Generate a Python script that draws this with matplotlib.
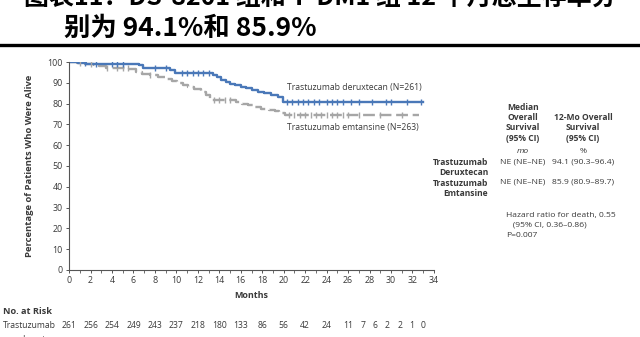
import numpy as np
import matplotlib.pyplot as plt
from matplotlib.transforms import blended_transform_factory

plt.rcParams['font.family'] = ['Open Sans', 'DejaVu Sans']

# Kaplan-Meier step data (months, % alive)
dxd_t = [0, 0.8, 1.6, 6.5, 6.9, 9.4, 9.9, 13.4, 13.8, 14.2, 14.6, 15.0, 15.5, 16.0,
         16.5, 17.0, 17.6, 18.2, 18.8, 19.5, 19.9, 33.0]
dxd_s = [100, 99.6, 99.2, 98.4, 97.2, 96.0, 94.6, 93.8, 92.6, 91.4, 90.4, 89.4, 88.8, 88.0,
         87.3, 86.6, 85.8, 85.0, 84.0, 83.2, 80.9, 80.9]
dxd_cens = [1.5, 2.5, 4.0, 4.5, 5.0, 8.0, 9.0, 10.5, 11.0, 11.5, 12.0, 12.5, 13.0,
            20.3, 20.8, 21.3, 21.8, 22.3, 22.8, 23.3, 24.0, 24.5, 25.0, 25.5, 26.3,
            27.0, 28.2, 29.5, 30.0, 31.5, 32.8]

tdm1_t = [0, 0.7, 1.5, 2.3, 2.8, 3.4, 5.6, 6.2, 6.8, 7.5, 8.3, 9.0, 9.6, 10.1, 10.6, 11.1,
          11.6, 12.3, 12.8, 13.1, 15.6, 16.1, 16.7, 17.3, 17.9, 18.6, 19.2, 19.6, 20.1, 32.6]
tdm1_s = [100, 99.6, 99.2, 98.8, 98.0, 97.2, 96.4, 95.2, 94.4, 93.6, 92.8, 92.0, 91.0, 90.0,
          89.0, 87.8, 86.8, 85.8, 84.0, 81.7, 81.0, 80.0, 79.2, 78.4, 77.6, 77.0, 76.2, 75.4,
          74.6, 74.6]
tdm1_cens = [1.0, 2.0, 3.5, 4.5, 5.0, 5.5, 7.5, 13.5, 14.0, 14.5, 15.0,
             20.5, 21.0, 21.5, 22.0, 22.5, 23.0, 23.5, 24.0, 24.5, 25.0, 25.5, 26.0,
             27.0, 29.0, 31.0]

risk_months = [0, 2, 4, 6, 8, 10, 12, 14, 16, 18, 20, 22, 24, 26,
               27.4, 28.5, 29.6, 30.8, 31.9, 33.0]
risk_dxd = [261, 256, 254, 249, 243, 237, 218, 180, 133, 86, 56, 42, 24, 11, 7, 6, 2, 2, 1, 0]

blue = '#4a78b8'
grey = '#a6a6a6'
txt = '#3a3a3a'

fig = plt.figure(figsize=(6.4, 3.37), dpi=100)
ax = fig.add_axes([0.108, 0.199, 0.570, 0.617])

ax.step(tdm1_t, tdm1_s, where='post', color=grey, lw=1.7, dashes=(5, 2))
ax.step(dxd_t, dxd_s, where='post', color=blue, lw=1.7)


def surv_at(ts, ss, x):
    i = np.searchsorted(ts, x, side='right') - 1
    return ss[i]


ax.plot(tdm1_cens, [surv_at(tdm1_t, tdm1_s, c) for c in tdm1_cens], ls='none',
        marker='|', ms=4.5, mew=1.0, color=grey)
ax.plot(dxd_cens, [surv_at(dxd_t, dxd_s, c) for c in dxd_cens], ls='none',
        marker='|', ms=4.5, mew=1.0, color=blue)

ax.set_xlim(0, 34)
ax.set_ylim(0, 100)
ax.set_xticks(range(0, 35, 2))
ax.set_xticks(range(0, 35), minor=True)
ax.set_yticks(range(0, 101, 10))
for s in ['top', 'right']:
    ax.spines[s].set_visible(False)
for s in ['left', 'bottom']:
    ax.spines[s].set_color('#555555')
    ax.spines[s].set_linewidth(0.8)
ax.tick_params(axis='both', labelsize=6.4, colors='#555555', labelcolor=txt,
               length=2.5, width=0.7, pad=2)
ax.tick_params(axis='x', which='minor', length=1.8, width=0.6, colors='#555555')
ax.set_xlabel('Months', fontsize=6.5, fontweight='bold', color=txt, labelpad=4)
ax.set_ylabel('Percentage of Patients Who Were Alive', fontsize=6.8, fontweight='bold',
              color=txt, labelpad=10)

ax.text(20.3, 86.5, 'Trastuzumab deruxtecan (N=261)', fontsize=6.2, color=txt)
ax.text(20.3, 67.5, 'Trastuzumab emtansine (N=263)', fontsize=6.2, color=txt)

# numbers at risk under the axis
fs_r = 6.2
fig.text(0.005, 0.068, 'No. at Risk', fontsize=6.6, fontweight='bold', color=txt)
fig.text(0.005, 0.028, 'Trastuzumab', fontsize=fs_r, color=txt)
fig.text(0.03, -0.014, 'deruxtecan', fontsize=fs_r, color=txt)
risk_tf = blended_transform_factory(ax.transData, fig.transFigure)
for m, n in zip(risk_months, risk_dxd):
    ax.text(m, 0.028, str(n), transform=risk_tf, ha='center', va='baseline',
            fontsize=fs_r, color=txt, clip_on=False)

# summary table on the right
fs = 6.1
fig.text(0.817, 0.576, 'Median\nOverall\nSurvival\n(95% CI)', ha='center', va='bottom',
         fontsize=fs, fontweight='bold', color=txt, linespacing=1.2)
fig.text(0.911, 0.576, '12-Mo Overall\nSurvival\n(95% CI)', ha='center', va='bottom',
         fontsize=fs, fontweight='bold', color=txt, linespacing=1.2)
fig.text(0.817, 0.549, 'mo', ha='center', va='center', fontsize=fs, style='italic', color=txt)
fig.text(0.911, 0.549, '%', ha='center', va='center', fontsize=fs, color=txt)
fig.text(0.763, 0.531, 'Trastuzumab\nDeruxtecan', ha='right', va='top', fontsize=fs,
         fontweight='bold', color=txt, linespacing=1.2)
fig.text(0.763, 0.469, 'Trastuzumab\nEmtansine', ha='right', va='top', fontsize=fs,
         fontweight='bold', color=txt, linespacing=1.2)
fig.text(0.817, 0.531, 'NE (NE\u2013NE)', ha='center', va='top', fontsize=fs, color=txt)
fig.text(0.911, 0.531, '94.1 (90.3\u201396.4)', ha='center', va='top', fontsize=fs, color=txt)
fig.text(0.817, 0.469, 'NE (NE\u2013NE)', ha='center', va='top', fontsize=fs, color=txt)
fig.text(0.911, 0.469, '85.9 (80.9\u201389.7)', ha='center', va='top', fontsize=fs, color=txt)
fig.text(0.791, 0.372, 'Hazard ratio for death, 0.55\n   (95% CI, 0.36\u20130.86)\nP=0.007',
         ha='left', va='top', fontsize=fs, color=txt, linespacing=1.6)

# heading above the rule
cjk = ['Noto Sans CJK SC', 'DejaVu Sans']
fig.text(0.5, 1.003, '图表11：DS-8201 组和 T-DM1 组 12 个月总生存率分', fontsize=18,
         fontweight='black', color='black', va='center', ha='center', family=cjk)
fig.text(0.1, 0.915, '别为 94.1%和 85.9%', fontsize=19, fontweight='black', color='black',
         va='center', family=cjk)
fig.add_artist(plt.Line2D([0, 1], [0.866, 0.866], color='black', lw=2.4,
                          transform=fig.transFigure))

fig.savefig('out.png', dpi=100)
